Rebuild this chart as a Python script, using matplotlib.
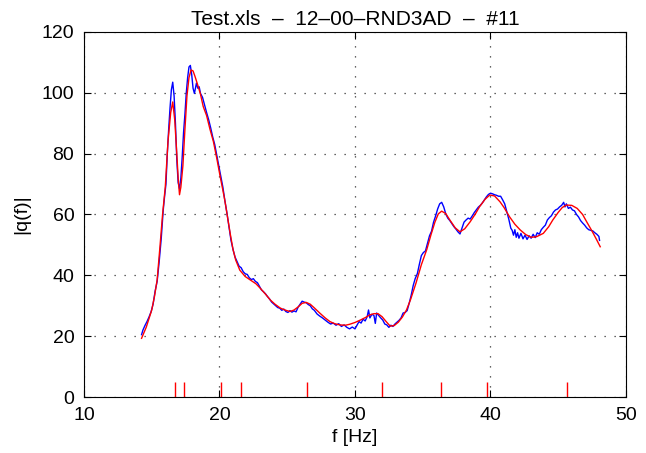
import matplotlib
matplotlib.use("Agg")
import matplotlib.pyplot as plt

# measured spectrum (blue)
f_meas = [14.25, 14.35, 14.5, 14.65, 14.8, 14.95, 15.1, 15.25, 15.4, 15.55, 15.7, 15.85, 15.95,
          16.05, 16.15, 16.25, 16.35, 16.45, 16.55, 16.65, 16.75, 16.85, 16.95, 17.05, 17.15,
          17.25, 17.35, 17.45, 17.55, 17.65, 17.75, 17.85, 17.95, 18.05, 18.15, 18.3, 18.4, 18.5,
          18.6, 18.75, 18.9, 19.05, 19.2, 19.35, 19.5, 19.65, 19.8, 19.95, 20.1, 20.25, 20.4,
          20.55, 20.7, 20.85, 21.0, 21.15, 21.3, 21.45, 21.6, 21.75, 21.9, 22.05, 22.2, 22.35,
          22.5, 22.65, 22.8, 22.95, 23.1, 23.25, 23.4, 23.55, 23.7, 23.85, 24.0, 24.15, 24.3,
          24.45, 24.6, 24.75, 24.9, 25.05, 25.2, 25.35, 25.5, 25.65, 25.8, 25.95, 26.1, 26.25,
          26.4, 26.55, 26.7, 26.85, 27.0, 27.2, 27.4, 27.6, 27.8, 28.0, 28.2, 28.4, 28.6, 28.8,
          29.0, 29.2, 29.4, 29.6, 29.8, 30.0, 30.15, 30.3, 30.45, 30.6, 30.75, 30.9, 31.0, 31.1,
          31.25, 31.4, 31.5, 31.6, 31.75, 31.9, 32.05, 32.2, 32.35, 32.5, 32.65, 32.8, 32.95,
          33.1, 33.25, 33.4, 33.55, 33.7, 33.85, 34.0, 34.15, 34.3, 34.45, 34.6, 34.75, 34.9,
          35.05, 35.2, 35.35, 35.5, 35.65, 35.8, 35.95, 36.1, 36.25, 36.4, 36.55, 36.7, 36.85,
          37.0, 37.15, 37.3, 37.45, 37.6, 37.75, 37.9, 38.05, 38.2, 38.35, 38.5, 38.65, 38.8,
          38.95, 39.1, 39.25, 39.4, 39.55, 39.7, 39.85, 40.0, 40.15, 40.3, 40.45, 40.6, 40.75,
          40.9, 41.05, 41.2, 41.35, 41.5, 41.6, 41.7, 41.8, 41.9, 42.0, 42.1, 42.25, 42.4, 42.55,
          42.7, 42.85, 43.0, 43.15, 43.3, 43.45, 43.6, 43.75, 43.9, 44.05, 44.2, 44.35, 44.5,
          44.65, 44.8, 44.95, 45.1, 45.25, 45.4, 45.5, 45.6, 45.75, 45.9, 46.05, 46.2, 46.35,
          46.5, 46.65, 46.8, 46.95, 47.1, 47.25, 47.4, 47.55, 47.7, 47.85, 48.0, 48.05]
q_meas = [20.5, 22.0, 23.5, 24.8, 26.3, 28.0, 30.5, 34.8, 38.0, 44.5, 52.0, 61.5, 66.0,
          70.0, 80.0, 88.0, 95.0, 101.0, 103.5, 99.0, 90.0, 78.0, 70.5, 68.5, 72.0,
          79.0, 87.0, 93.0, 100.0, 105.0, 108.5, 109.0, 106.0, 101.5, 99.8, 103.2, 101.5, 102.0,
          99.8, 98.5, 96.0, 93.5, 91.2, 88.5, 85.5, 83.0, 79.5, 76.0, 72.5, 69.0, 64.5,
          60.5, 56.0, 51.5, 48.5, 46.0, 44.5, 43.0, 42.5, 41.2, 40.5, 40.3, 39.2, 38.6,
          38.9, 38.0, 37.6, 36.4, 35.2, 34.6, 33.9, 33.0, 32.2, 31.2, 30.6, 30.0, 29.4,
          29.2, 28.5, 28.9, 28.1, 27.8, 28.4, 27.9, 28.3, 28.0, 29.5, 30.5, 31.5, 31.2,
          31.0, 30.4, 30.0, 29.0, 28.5, 27.3, 26.6, 26.0, 25.3, 24.6, 24.0, 24.3, 23.6, 24.1,
          23.2, 23.7, 22.9, 22.4, 23.0, 22.4, 23.6, 24.8, 24.3, 25.6, 25.0, 26.4, 28.6, 26.0,
          27.2, 26.8, 24.2, 27.6, 26.8, 26.0, 25.3, 24.0, 23.7, 22.9, 23.6, 23.2, 24.0,
          24.6, 25.2, 26.0, 27.6, 27.8, 28.4, 30.8, 33.5, 36.7, 39.0, 40.5, 43.6, 46.5,
          47.5, 48.0, 50.5, 53.0, 54.5, 57.5, 59.5, 61.8, 63.5, 64.0, 62.5, 60.2, 58.8,
          58.0, 57.0, 56.0, 55.2, 54.3, 53.6, 55.5, 57.5, 58.2, 58.8, 58.5, 59.5, 60.6,
          61.5, 62.4, 63.0, 63.8, 64.8, 65.8, 66.6, 67.0, 66.8, 66.5, 66.3, 66.0, 66.0,
          64.8, 63.5, 61.0, 58.5, 55.5, 54.8, 53.2, 55.0, 52.5, 54.0, 52.2, 53.8, 52.0, 53.2,
          51.8, 53.0, 52.2, 53.5, 52.4, 54.0, 53.5, 55.0, 55.8, 56.5, 58.2, 59.0, 59.6,
          60.8, 61.5, 61.8, 62.5, 63.0, 64.0, 62.5, 63.5, 62.0, 62.4, 61.5, 61.2, 60.0,
          59.2, 58.0, 57.2, 56.5, 55.6, 55.0, 54.8, 54.6, 54.0, 53.5, 52.8, 51.5]

# fitted model (red)
f_fit = [14.25, 14.6, 15.0, 15.2, 15.4, 15.6, 15.8, 16.0, 16.2, 16.4, 16.55, 16.7, 16.85,
         16.95, 17.05, 17.15, 17.3, 17.45, 17.6, 17.75, 17.9, 18.05, 18.2, 18.4, 18.6, 18.8,
         19.05, 19.3, 19.55, 19.8, 20.05, 20.25, 20.4, 20.6, 20.8, 21.0, 21.2, 21.5, 21.9,
         22.3, 22.7, 23.0, 23.4, 23.75, 24.1, 24.5, 24.9, 25.2, 25.5, 25.8, 26.1, 26.4, 26.7,
         27.0, 27.4, 27.8, 28.15, 28.5, 28.9, 29.3, 29.6, 30.0, 30.4, 30.8, 31.1, 31.4, 31.7,
         32.0, 32.3, 32.6, 32.9, 33.2, 33.5, 33.8, 34.1, 34.5, 34.9, 35.3, 35.6, 35.9, 36.15,
         36.4, 36.7, 37.0, 37.4, 37.75, 38.1, 38.5, 38.9, 39.2, 39.6, 39.95, 40.3, 40.7, 41.0,
         41.4, 41.8, 42.2, 42.6, 43.0, 43.4, 43.9, 44.3, 44.6, 45.0, 45.3, 45.6, 46.0, 46.4,
         46.8, 47.1, 47.5, 47.8, 48.1]
q_fit = [19.3, 23.0, 28.6, 33.0, 38.5, 49.0, 60.0, 69.0, 84.0, 93.5, 97.0, 91.0, 80.0,
         72.0, 66.5, 69.0, 76.0, 88.0, 99.0, 105.0, 107.5, 107.2, 105.3, 102.5, 99.5, 95.5,
         92.5, 88.0, 84.0, 78.5, 72.5, 68.0, 64.5, 59.0, 53.5, 48.5, 45.0, 41.7, 39.6,
         38.4, 37.2, 35.8, 33.8, 31.9, 30.5, 29.2, 28.5, 28.1, 28.6, 29.6, 30.8, 31.1, 30.5,
         29.3, 27.6, 26.0, 24.8, 24.1, 23.7, 23.6, 23.9, 24.5, 25.3, 26.2, 27.0, 27.4, 27.4,
         26.4, 24.8, 23.3, 23.5, 24.6, 26.3, 28.6, 32.0, 37.4, 43.5, 48.5, 53.2, 57.5, 60.2,
         61.1, 60.3, 58.2, 55.6, 54.3, 55.3, 57.6, 60.3, 62.6, 65.0, 66.4, 66.1, 64.2, 62.3,
         59.3, 56.8, 54.9, 53.4, 52.5, 52.7, 53.8, 56.0, 58.2, 60.7, 62.3, 63.1, 63.0, 62.0,
         60.0, 57.6, 54.5, 52.0, 49.4]

# identified mode frequencies
f_modes = [16.69, 17.38, 20.13, 21.56, 26.44, 31.97, 36.35, 39.72, 45.67]
mode_mark = 5

plt.rcParams['font.family'] = ['Liberation Sans', 'DejaVu Sans']

fig = plt.figure(figsize=(6.46, 4.53), dpi=100)
ax = fig.add_axes([0.130, 0.1236, 0.839, 0.8058])

ax.plot(f_meas, q_meas, color='blue', lw=1.0)
ax.plot(f_fit, q_fit, color='red', lw=1.0)
ax.vlines(f_modes, 0, mode_mark, color='red', lw=1.0)

ax.set_xlim(10, 50)
ax.set_ylim(0, 120)
ax.set_xticks([10, 20, 30, 40, 50])
ax.set_yticks([0, 20, 40, 60, 80, 100, 120])
ax.grid(True, color='#333333', linestyle=(0, (1, 7)), lw=0.9)
ax.tick_params(direction='in', top=True, right=True, length=5, labelsize=14, pad=7)
for s in ax.spines.values():
    s.set_linewidth(0.8)

ax.set_title('Test.xls  \u2013  12\u201300\u2013RND3AD  \u2013  #11', fontsize=15, pad=5)
ax.set_xlabel('f [Hz]', fontsize=14, labelpad=4)
ax.set_ylabel('|q(f)|', fontsize=14, labelpad=8)

fig.savefig('out.png', dpi=100)
